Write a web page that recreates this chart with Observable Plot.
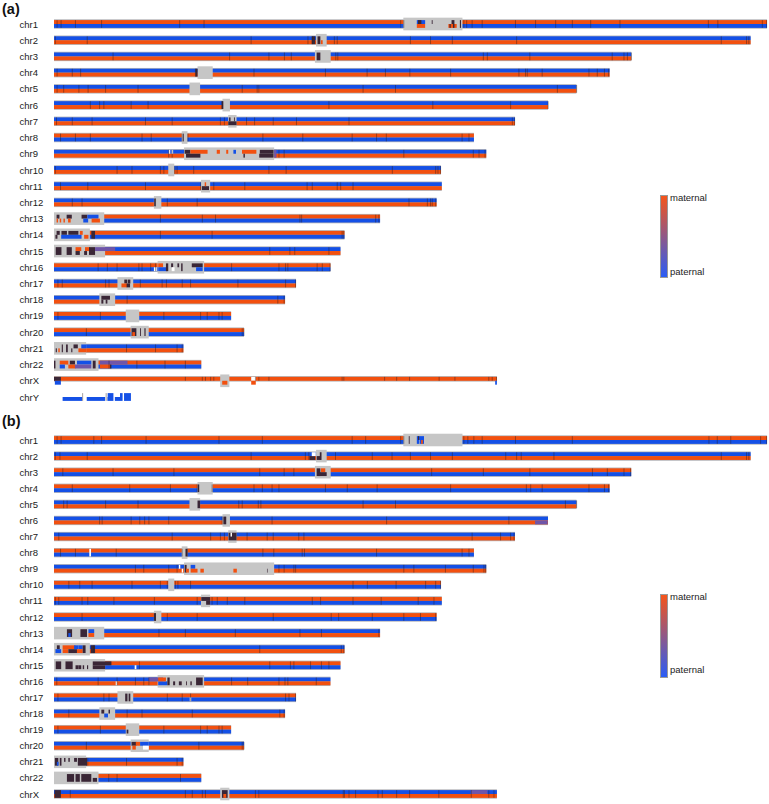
<!DOCTYPE html>
<html><head><meta charset="utf-8">
<script src="https://cdn.jsdelivr.net/npm/d3@7"></script>
<script src="https://cdn.jsdelivr.net/npm/@observablehq/plot@0.6"></script>
<style>
html,body{margin:0;padding:0;background:#fff}
body{position:relative;width:769px;height:804px;overflow:hidden;font-family:"Liberation Sans",Arial,sans-serif}
.tag{position:absolute;left:2px;font-weight:bold;font-size:14.5px;line-height:14px;color:#111}
.panel{position:absolute;left:0}
.panel svg{display:block}
.bar{position:absolute;left:660px;width:6px;border:.5px solid #999;background:linear-gradient(#f5541a,#2a5cf5)}
.lab{position:absolute;left:670px;font-size:9.5px;line-height:10px;color:#222}
</style></head><body>
<div class="tag" style="top:2px">(a)</div>
<div class="tag" style="top:414px">(b)</div>
<div id="a" class="panel" style="top:14px"></div>
<div id="b" class="panel" style="top:412px"></div>
<div class="bar" style="top:195px;height:81px"></div>
<div class="lab" style="top:193px">maternal</div>
<div class="lab" style="top:267px">paternal</div>
<div class="bar" style="top:594px;height:82px"></div>
<div class="lab" style="top:592px">maternal</div>
<div class="lab" style="top:665px">paternal</div>
<script>
const chromNames=["chr1","chr2","chr3","chr4","chr5","chr6","chr7","chr8","chr9","chr10","chr11","chr12","chr13","chr14","chr15","chr16","chr17","chr18","chr19","chr20","chr21","chr22","chrX","chrY"];
const chromLengths=[248.4,242.7,201.1,193.6,182,172.1,160.6,146.3,150.6,134.8,135.1,133.3,113.6,101.2,99.8,96.3,84.3,80.5,61.7,66.2,45.1,51.3,154.3,0];
const zoneRow=[0,1,2,3,4,5,6,7,8,9,10,11,12,13,14,15,16,17,18,19,20,21,22];
const zoneStart=[121.7,91.3,90.9,50,47.2,58.7,60.7,44.5,45.3,39.8,51.2,34.8,0,0,0,36.1,22.1,15.8,25,26.7,0,0,57.9];
const zoneEnd=[142.3,95,96.4,55.3,50.9,61.3,63.6,46.5,76.7,41.9,54.4,37.4,17.5,12.5,17.8,52.3,27.6,21.3,29.7,33,11.2,15.5,61.1];
const aTop=["m","p","p","p","p","p","p","m","p","p","p","p","m","m","p","m","p","p","m","m","p","m","m",null];
const aBottom=["p","m","m","m","m","m","m","p","m","m","m","m","p","p","m","p","m","m","p","p","m","p",null,null];
const bTop=["m","p","m","m","p","p","p","m","p","m","m","m","p","p","m","p","m","p","m","p","p","m","p"];
const bBottom=["p","m","p","p","m","m","m","p","m","p","p","p","m","m","p","m","p","m","p","m","m","p","m"];
const aTicks=[
[.9,2.3,7.3,16.4,43.6,52.1,120.6,121.7,142.6,143.6,145.5,149,160.6,167.6,174.6,180.4,186.8,197,227.8,231.1,246.6,248.1],
[.3,11.4,68.5,88.3,89.8,97.5,98.5,124,131,138.6,161,232.3,241.1,241.9],
[20.4,61,74.7,80.1,82.5,98,98.7,149.4,150.8,165.6,194.3,198.4,199.6,201],
[.9,6.2,9.1,49.1,69.5,94.4,108.9,115.3,123.8,138,161.8,164.1,164.7,169.9,186.2,189.1,191.6,193],
[.9,3.2,8.5,11.7,17.8,29.1,65.4,70.6,71.2,107.5,118.8,175.2,181.9],
[12.5,15.7,17.2,26.7,32.6,58.4,95.6,131.8,158.9,172],
[.7,6.2,13.1,31.7,41,57.8,59.2,66.9,69.7,76.2,84.3,102.6,159.5,160.3],
[2.1,7.3,12.5,30.5,33.7,44.5,46.5,72.6,86.5,103.7,112.2,115.6,142,144.4],
[39.8,41,78.2,80,121.7,145.9,147.9,150],
[.3,21.8,27,36.9,38.1,41.9,42.7,48.5,74.7,80.7,117.7,132.8,133.6,134.5],
[2.1,11.6,31.7,50.9,55.5,66.3,88,89.8,98.5,99.7,104],
[6.2,9.6,35.2,39.3,49.7,123.5,129.9,131,131.6,132.8],
[36.9,51.5,56.1,85.5,86.1,111.9,113],
[36.9,54.9,100.2,100.8],
[75,82,83.7,95.6],
[15.2,18.4,21.8,29.4,30.5,33.5,35.2,61.7,78.2,80.5,81.3,91.5,93.3,96],
[1.2,2.7,17.8,19,29.9,37.5,39,44.5,47.4,63.9,80.5,84],
[25.3,77.8,80],
[1.2,16,38.1,50.9,53.2,57.3,58.4],
[11.1,65.4,66],
[25.1,35.2,42.7,44.5],
[19,28.7,38.5,45.6],
[45.6,51.5,52.6,54.4,55.5,70,71.2,74.7,100.2,100.8,115,119.2,123.7,134,139.5,151.3,152.5,154],
[9.8,18]];
const bTicks=[
[.9,2.3,13.7,16.4,31.9,57.3,72.4,103.7,108.4,120.6,121.7,142.6,144,146.1,149,160.6,180.4,228,230.9,235.6,246,248.1],
[.3,1.9,11.4,68.5,87.4,88.6,97.9,110.7,117.6,131,124,138.6,157.2,161,162.6,174,232.3,241.1,241.9],
[2.9,20.4,41.6,71.5,80,83.4,131.4,149.4,165.6,187.4,192.6,198.4,200.7],
[6.2,26.2,40.4,49.7,54.9,69.5,72.4,75.8,78.2,94.4,102,112.4,138,164.4,165.9,169.9,186.2,191.6,193],
[3.2,4.4,17.8,29.1,64.2,65.4,71,71.9,107.5,118.8,178,181.9],
[15.7,16.6,26.7,29.7,31.4,32.9,39.8,58.4,75.8,115.7,158.3],
[1.5,41,54.4,57.8,59.2,67.1,74.1,76.2,85.1,86.9,145.5,155.4,158.9,160.1],
[2.1,7.3,21.5,44.5,46.2,72.6,76.4,86.3,87.1,112.2,142,144.4],
[28.2,31.1,39.8,42.7,78.2,80,83.4,84,121.7,125.2,136.2,145.9,149.6,150.2],
[5,8.8,13.1,27,36.9,39.3,42.1,43,47.4,104,109,119,129.3,132.8,134.5],
[.3,1.5,9.6,11.6,20.7,34.8,49.7,54.9,56.7,60.2,66.3,89.8,92.7,104,113.8,126.7,132.2],
[9.6,35.2,39.3,49.7,76.2,96.4,99,110.7,121.7,127.5,132.8],
[36.4,45.6,63,85.5,93,113],
[13.7,71.5,99.9,100.8],
[29.6,75,82.2,83.4,89.2,93,95.6],
[.8,15.2,21.8,28.2,31.1,32.9,61.7,67.3,78.2,80.3,81.3,91.2],
[1.2,17.2,19,39.3,44.5,47.4,80.5,81.7,84],
[5,25.3,30.5,48,78.5,80],
[1.2,16,38.1,50.9,53.2,57.3,58.4],
[11.1,50.3,65.4,66],
[11.6,25.1,42.7,44.5],
[18.9,21.8,43.9],
[5.5,45.6,48,51.5,52.6,70,71.2,100.6,101,102.6,104.9,112.7,114.2,119.2,123.7,133.9,145.2,151.3,153.1]];
const aBlocks=[
[0,126.4,129.3,0,"p"],[0,126.4,129.3,1,"m"],[0,126.8,128,0,"d"],[0,131.6,131.9,0,"d"],[0,137.4,140.3,1,"m"],[0,138.5,139.5,0,"d"],[0,137.8,138.2,1,"d"],[0,139,139.5,1,"d"],[0,141.4,141.8,2,"d"],
[1,89.8,91,2,"d"],[1,91.8,92.8,2,"d"],[1,93,93.6,1,"m"],[2,91.5,92.8,2,"d"],[3,49.3,50,2,"d"],[5,58.4,59,2,"d"],
[6,60.7,63.6,1,"d"],[6,61,61.5,0,"d"],[6,62.7,63,0,"d"],[7,44.9,45.2,2,"d"],
[8,45.5,47.5,0,"d"],[8,47.5,53.5,0,"m"],[8,56.7,57.8,0,"m"],[8,60,60.7,0,"m"],[8,62.5,63.4,0,"p"],[8,65.5,70.5,0,"m"],[8,71.7,76.5,0,"d"],[8,46,51,1,"d"],[8,66,66.5,1,"d"],[8,71.5,76.5,1,"d"],[8,76.7,77.5,2,"u"],[8,40,40.5,0,"w"],[8,41,41.5,0,"w"],
[10,51.5,54,1,"d"],[10,52.5,53,0,"m"],[11,34.9,35.4,2,"d"],
[12,.9,1.9,0,"d"],[12,4.4,6.2,0,"d"],[12,9.6,11.6,0,"d"],[12,11.6,15.5,0,"p"],[12,.9,1.4,1,"m"],[12,2,2.5,1,"m"],[12,3.3,3.8,1,"m"],[12,4.9,5.8,1,"m"],[12,10.2,11.9,1,"p"],[12,13.1,16,1,"m"],
[13,.9,2,0,"d"],[13,2.6,4.5,0,"d"],[13,5,8.5,0,"d"],[13,9,10,0,"m"],[13,2.5,9.6,1,"p"],[13,.5,1.2,1,"d"],[13,10.5,12,1,"m"],[13,13,14.3,2,"d"],
[14,.6,2.6,2,"d"],[14,4.4,6.2,2,"d"],[14,7.5,9.5,0,"m"],[14,7.5,9,1,"d"],[14,10.8,12.5,0,"m"],[14,10.5,11.5,1,"d"],[14,12.2,14.3,2,"d"],[14,14.3,21.3,0,"u"],
[15,36.3,38,0,"m"],[15,36.3,39.5,1,"p"],[15,39,39.8,2,"d"],[15,40.8,41.5,0,"d"],[15,43,43.6,0,"d"],[15,44.3,44.8,2,"d"],[15,48,51.8,0,"d"],[15,49.5,51.8,1,"p"],[15,34.8,35.8,1,"w"],[15,41,42,1,"w"],
[16,24.5,25.5,0,"d"],[16,25.7,26.6,0,"d"],[16,23.5,25.5,1,"m"],[16,25.3,26.5,1,"d"],
[17,16.5,19.5,0,"d"],[17,16.5,17.2,1,"d"],[17,18,18.6,1,"d"],
[19,27,28.7,2,"d"],[19,27.3,28.2,1,"m"],[19,30,30.3,2,"d"],[19,31.5,31.9,2,"d"],
[20,.6,1,1,"d"],[20,1.5,2,1,"m"],[20,2.7,3.1,2,"d"],[20,4.2,4.8,2,"d"],[20,6,6.4,1,"d"],[20,6.8,8.3,0,"d"],[20,8.5,11.2,1,"m"],[20,9.5,11.2,0,"p"],
[21,0,.5,2,"d"],[21,2,5,0,"m"],[21,5.5,7.3,0,"d"],[21,2,3.8,1,"p"],[21,5,7.5,1,"m"],[21,8,13,0,"p"],[21,7.3,13,1,"u"],[21,13.5,14.5,2,"d"],[21,16,25.6,0,"u"],[21,16,19.5,1,"m"],[21,19.5,20,1,"d"],
[22,0,2.4,0,"d"],[22,.3,2.4,1,"p"],[22,58.6,60.4,1,"m"],[22,68.7,70.3,0,"w"],[22,68.7,70.3,1,"m"],[22,153.7,154.3,1,"p"],
[23,3,9.8,1,"p"],[23,11.4,17.8,1,"p"],[23,18.6,20.7,1,"p"],[23,21.2,23.9,1,"p"],[23,24.4,26.8,1,"p"],[23,18.7,20.7,0,"p"],[23,23,23.9,0,"p"],[23,24.4,26.8,0,"p"]];
const bBlocks=[
[0,123.6,123.9,2,"d"],[0,126.4,128.9,0,"p"],[0,126.4,127.3,1,"p"],[0,127.5,128.9,1,"p"],[0,126.8,127.2,0,"d"],[0,127.9,128.5,1,"m"],
[1,89,91,1,"d"],[1,91.5,93,1,"d"],[1,92.6,93.2,2,"d"],[1,89.8,91.2,0,"w"],
[2,91.5,92.8,2,"d"],[2,93,94.5,0,"m"],[2,92,95,1,"d"],[3,50.1,50.6,2,"d"],[4,50,50.9,2,"d"],[5,59,60,2,"d"],[5,167.6,172,1,"u"],
[6,60.8,63.6,2,"d"],[6,61.5,62,0,"w"],[7,45.8,46.5,2,"d"],[7,12.3,12.9,2,"w"],
[8,45.5,46.2,2,"d"],[8,47.6,49.2,0,"p"],[8,46,47,1,"m"],[8,47.6,50,1,"m"],[8,51,52.2,1,"m"],[8,62.5,63.7,1,"m"],[8,74.2,74.4,1,"d"],[8,43.5,44,0,"w"],[8,44.5,45,1,"w"],
[10,51.3,54.4,0,"d"],[10,53,54.4,1,"d"],[11,34.8,35.5,2,"d"],
[12,4.5,6.3,2,"d"],[12,9.2,11.5,2,"d"],[12,12,14,0,"p"],[12,12,14,1,"m"],[12,5,5.8,1,"p"],
[13,1,2,0,"d"],[13,.5,2.5,1,"p"],[13,3,7.5,0,"m"],[13,3,5,1,"m"],[13,5,8,1,"d"],[13,7,8.5,0,"p"],[13,8.5,10,0,"p"],[13,8,10,1,"m"],[13,10,11,2,"d"],[13,12.8,14.3,2,"d"],
[14,.6,2.5,2,"d"],[14,4,6.5,2,"d"],[14,7.5,8.5,1,"d"],[14,8.5,9.5,1,"d"],[14,10,10.5,1,"d"],[14,11.5,11.9,1,"d"],[14,13.5,20,0,"d"],[14,13.5,17.8,1,"d"],[14,28.1,28.7,1,"w"],
[15,33,38,0,"u"],[15,36.3,39.5,1,"p"],[15,36.3,39,0,"m"],[15,39.5,40.3,2,"d"],[15,41.5,42.2,1,"d"],[15,43.5,44.5,1,"d"],[15,46,46.3,1,"d"],[15,47.5,48,1,"d"],[15,49.5,51.8,2,"d"],[15,21.5,22,1,"w"],
[16,24.8,25.6,2,"d"],[16,26,26.6,2,"d"],[16,47.3,47.8,1,"w"],
[17,16.5,17.5,0,"d"],[17,17.5,18.8,1,"p"],[17,19,19.5,0,"d"],[18,25.3,25.9,1,"d"],
[19,27,28.7,0,"d"],[19,28.5,30,0,"m"],[19,27.3,28.5,1,"m"],[19,30,33,0,"p"],[19,31,33,1,"w"],
[20,.3,1.5,2,"d"],[20,2,2.6,2,"d"],[20,3.5,4,0,"d"],[20,5,5.5,0,"d"],[20,7,8,0,"d"],[20,8.3,11.5,2,"d"],[20,1,1.6,1,"p"],
[21,4.5,7,2,"d"],[21,7.5,9,2,"d"],[21,9.5,13,2,"d"],[21,13.5,15,1,"d"],
[22,.2,2.4,2,"d"],[22,58.5,60.5,2,"d"],[22,59,60,1,"m"],[22,145.2,151,0,"u"]];

const kinds={m:"#f2500f",p:"#1450e6",d:"#3a2636",u:"#6f55a8",w:"#ffffff"};
const H=.24,G=.29,Z=.39;
function panel(id,tops,bottoms,ticks,blocks,yRange,height){
  const rows=d3.range(tops.length);
  const has=i=>tops[i]||bottoms[i];
  const bg=rows.filter(has);
  const span=t=>t===0?{y1:-H,y2:0}:t===1?{y1:0,y2:H}:{y1:-H,y2:H};
  const tracks=[];
  for(const i of bg){
    if(tops[i])tracks.push({r:i,s:0,e:chromLengths[i],y1:i-H,y2:i,c:kinds[tops[i]]});
    if(bottoms[i])tracks.push({r:i,s:0,e:chromLengths[i],y1:i,y2:i+H,c:kinds[bottoms[i]]});
  }
  const zones=zoneRow.map((r,k)=>({r,s:zoneStart[k],e:zoneEnd[k]})).filter(z=>has(z.r));
  const bl=blocks.map(([r,s,e,t,k])=>{const q=span(t);return{r,s,e,y1:r+q.y1,y2:r+q.y2,c:kinds[k]}});
  const tk=ticks.flatMap((list,r)=>list.map(x=>({x,r,single:!!tops[r]&&!bottoms[r]})));
  const plot=Plot.plot({
    width:769,height,marginTop:0,marginBottom:0,marginLeft:0,marginRight:0,
    x:{domain:[0,248.4],range:[54,767],axis:null},
    y:{domain:[0,tops.length-1],range:yRange,axis:null},
    marks:[
      Plot.rect(bg,{x1:0,x2:i=>chromLengths[i],y1:i=>i-G,y2:i=>i+(bottoms[i]?G:.05),fill:"#b4b4b8"}),
      Plot.rect(tracks,{x1:"s",x2:"e",y1:"y1",y2:"y2",fill:"c"}),
      Plot.rect(zones,{x1:"s",x2:"e",y1:d=>d.r-Z,y2:d=>d.r+Z,fill:"#c6c6c6"}),
      Plot.rect(bl,{x1:"s",x2:"e",y1:"y1",y2:"y2",fill:"c"}),
      Plot.ruleX(tk,{x:"x",y1:d=>d.r-H,y2:d=>d.single?d.r:d.r+H,stroke:"#2a1c1c",strokeWidth:.7,strokeOpacity:.6}),
      Plot.text(rows,{y:i=>i,text:i=>chromNames[i],frameAnchor:"left",dx:19,textAnchor:"start",fontSize:9.5,fill:"#222",fontFamily:"Liberation Sans"})
    ]
  });
  document.getElementById(id).appendChild(plot);
}
panel("a",aTop,aBottom,aTicks,aBlocks,[10,383],396);
panel("b",bTop,bBottom,bTicks,bBlocks,[28,382],392);
</script>
</body></html>
